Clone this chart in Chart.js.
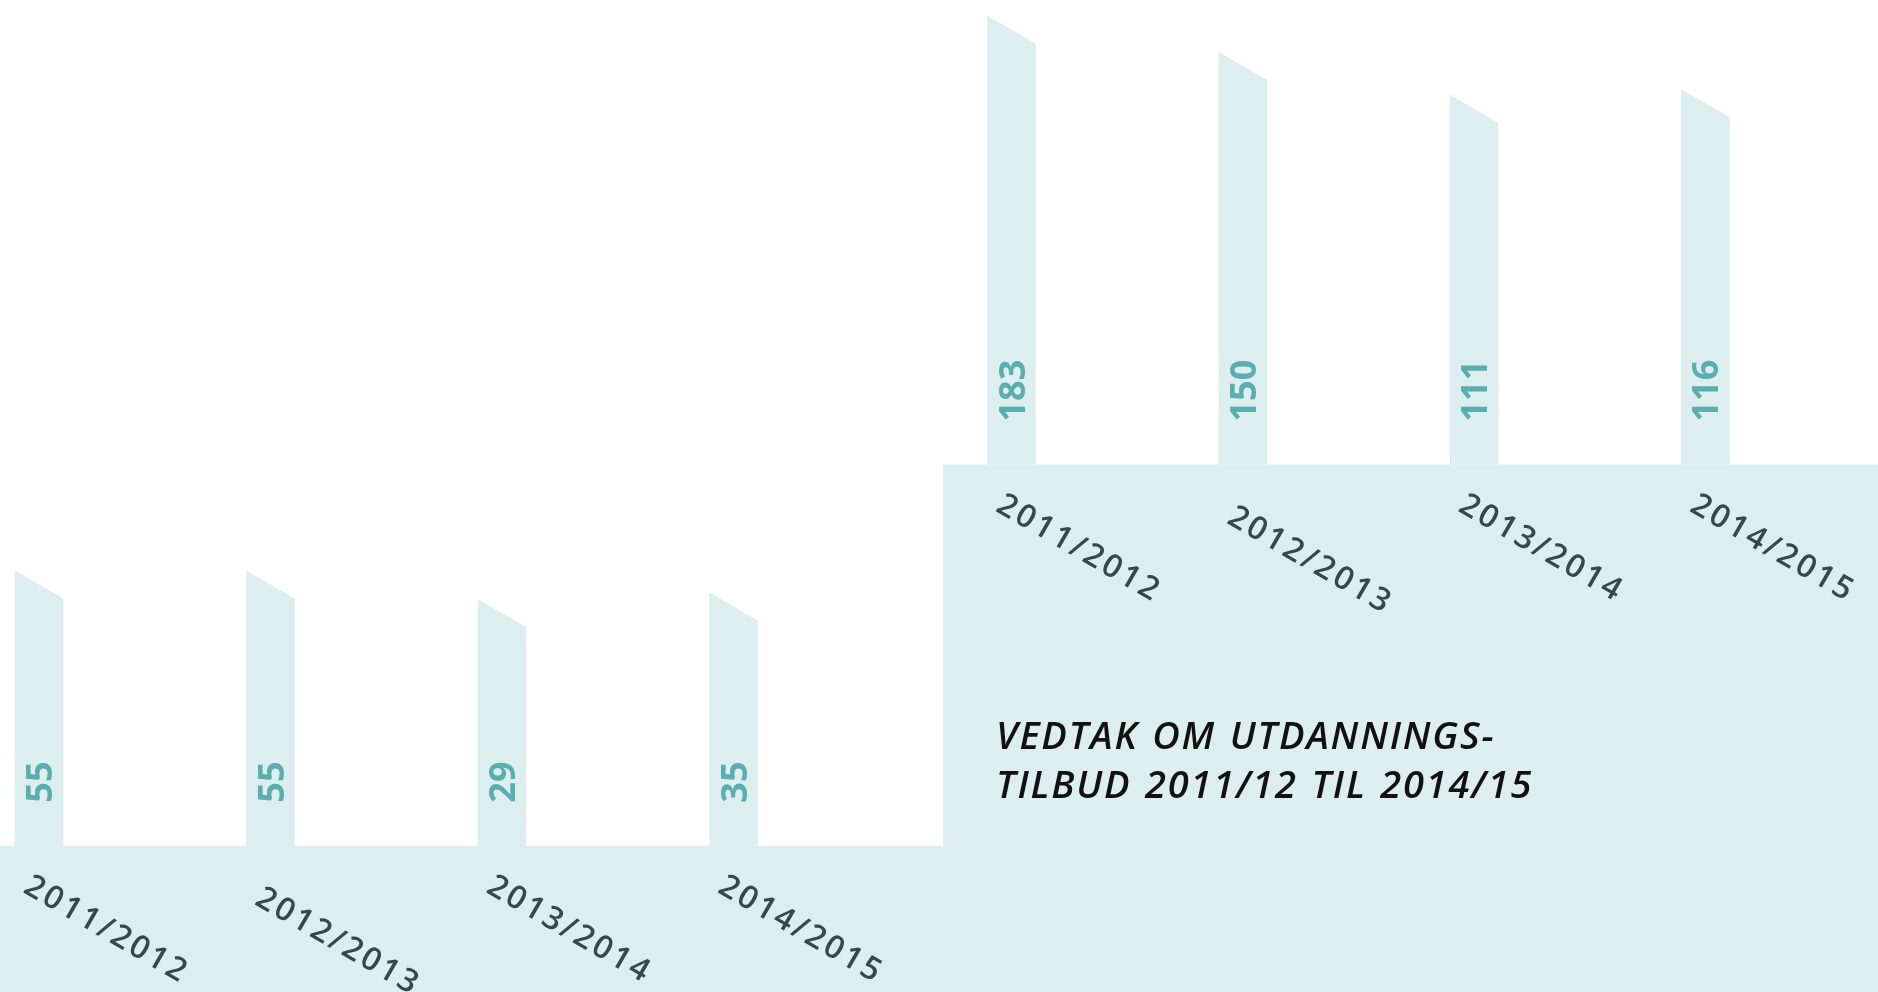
<!DOCTYPE html>
<html lang="no">
<head>
<meta charset="utf-8">
<title>Vedtak om utdanningstilbud 2011/12 til 2014/15</title>
<script src="https://cdn.jsdelivr.net/npm/chart.js@4/dist/chart.umd.min.js"></script>
<style>
  html, body { margin: 0; padding: 0; background: #fff; }
  body { width: 1878px; height: 992px; position: relative; overflow: hidden; }
  .panel { position: absolute; top: 0; height: 992px; }
  #leftPanel { left: 0; width: 943px; }
  #rightPanel { left: 943px; width: 935px; }
  .title {
    position: absolute; left: 996px; top: 710px; z-index: 2;
    font: italic 600 38px/48.5px 'Open Sans', sans-serif;
    letter-spacing: 1.8px; word-spacing: 2px; color: #111;
  }
</style>
</head>
<body>
<div class="panel" id="leftPanel"><canvas id="leftChart"></canvas></div>
<div class="panel" id="rightPanel"><canvas id="rightChart"></canvas></div>
<div class="title">VEDTAK OM UTDANNINGS-<br>TILBUD 2011/12 TIL 2014/15</div>
<script>
const years = ['2011/2012', '2012/2013', '2013/2014', '2014/2015'];
const leftValues = [55, 55, 29, 35];
const rightValues = [183, 150, 111, 116];

const TEAL = '#ddeeee';
const VALUE_COLOR = '#5aaeb0';
const LABEL_COLOR = '#344a4a';
const SLANT = Math.tan(Math.PI / 6);
// the second year label sits a bit lower in the original
const labelDrop = [0, 12, 0, 0];

function drawSpaced(ctx, text, x, y, spacing) {
  let cx = x;
  for (const ch of text) {
    ctx.fillText(ch, cx, y);
    cx += ctx.measureText(ch).width + spacing;
  }
}

const infographicStyle = {
  id: 'infographicStyle',
  beforeDatasetsDraw(chart) {
    const { ctx, chartArea } = chart;
    ctx.save();
    ctx.fillStyle = TEAL;
    ctx.fillRect(0, chartArea.bottom, chart.width, chart.height - chartArea.bottom);
    ctx.restore();
  },
  afterDatasetsDraw(chart) {
    const { ctx, chartArea } = chart;
    const meta = chart.getDatasetMeta(0);
    const values = chart.data.datasets[0].data;
    const xScale = chart.scales.x;
    ctx.save();
    meta.data.forEach((bar, i) => {
      const { x, y, width } = bar.getProps(['x', 'y', 'width'], true);
      const left = x - width / 2;
      const right = x + width / 2;
      const drop = width * SLANT;

      // cut the slanted top
      ctx.fillStyle = '#ffffff';
      ctx.beginPath();
      ctx.moveTo(left - 1, y - SLANT);
      ctx.lineTo(right + 1, y + drop + SLANT);
      ctx.lineTo(right + 1, y - 3);
      ctx.lineTo(left - 1, y - 3);
      ctx.closePath();
      ctx.fill();

      // value, reading upwards inside the bar
      ctx.save();
      ctx.fillStyle = VALUE_COLOR;
      ctx.font = '700 36px "Open Sans"';
      ctx.textAlign = 'left';
      ctx.textBaseline = 'alphabetic';
      ctx.translate(x + 13, chartArea.bottom - 43);
      ctx.rotate(-Math.PI / 2);
      ctx.fillText(String(values[i]), 0, 0);
      ctx.restore();

      // year label, tilted down to the right
      const px = xScale.getPixelForValue(i) - 17;
      const py = chartArea.bottom + 46 + labelDrop[i];
      ctx.save();
      ctx.fillStyle = LABEL_COLOR;
      ctx.font = '600 32px "Open Sans"';
      ctx.textAlign = 'left';
      ctx.textBaseline = 'alphabetic';
      ctx.translate(px, py);
      ctx.rotate(Math.PI / 6);
      drawSpaced(ctx, years[i], 0, 0, 2.8);
      ctx.restore();
    });
    ctx.restore();
  },
};

function makeChart(id, values, yMin, yMax, padding) {
  return new Chart(document.getElementById(id), {
    type: 'bar',
    data: {
      labels: years,
      datasets: [{
        data: values,
        backgroundColor: TEAL,
        borderWidth: 0,
        barThickness: 48,
        base: yMin,
        clip: false,
      }],
    },
    options: {
      responsive: true,
      maintainAspectRatio: false,
      animation: false,
      layout: { padding },
      scales: {
        x: { display: false, offset: false, grid: { offset: false } },
        y: { display: false, min: yMin, max: yMax },
      },
      plugins: {
        legend: { display: false },
        tooltip: { enabled: false },
      },
    },
    plugins: [infographicStyle],
  });
}

makeChart('leftChart', leftValues, -195, 573.8, { left: 39, right: 209.5, top: 0, bottom: 146.3 });
makeChart('rightChart', rightValues, -225, 197.3, { left: 68.5, right: 172.6, top: 0, bottom: 527.5 });
</script>
</body>
</html>
